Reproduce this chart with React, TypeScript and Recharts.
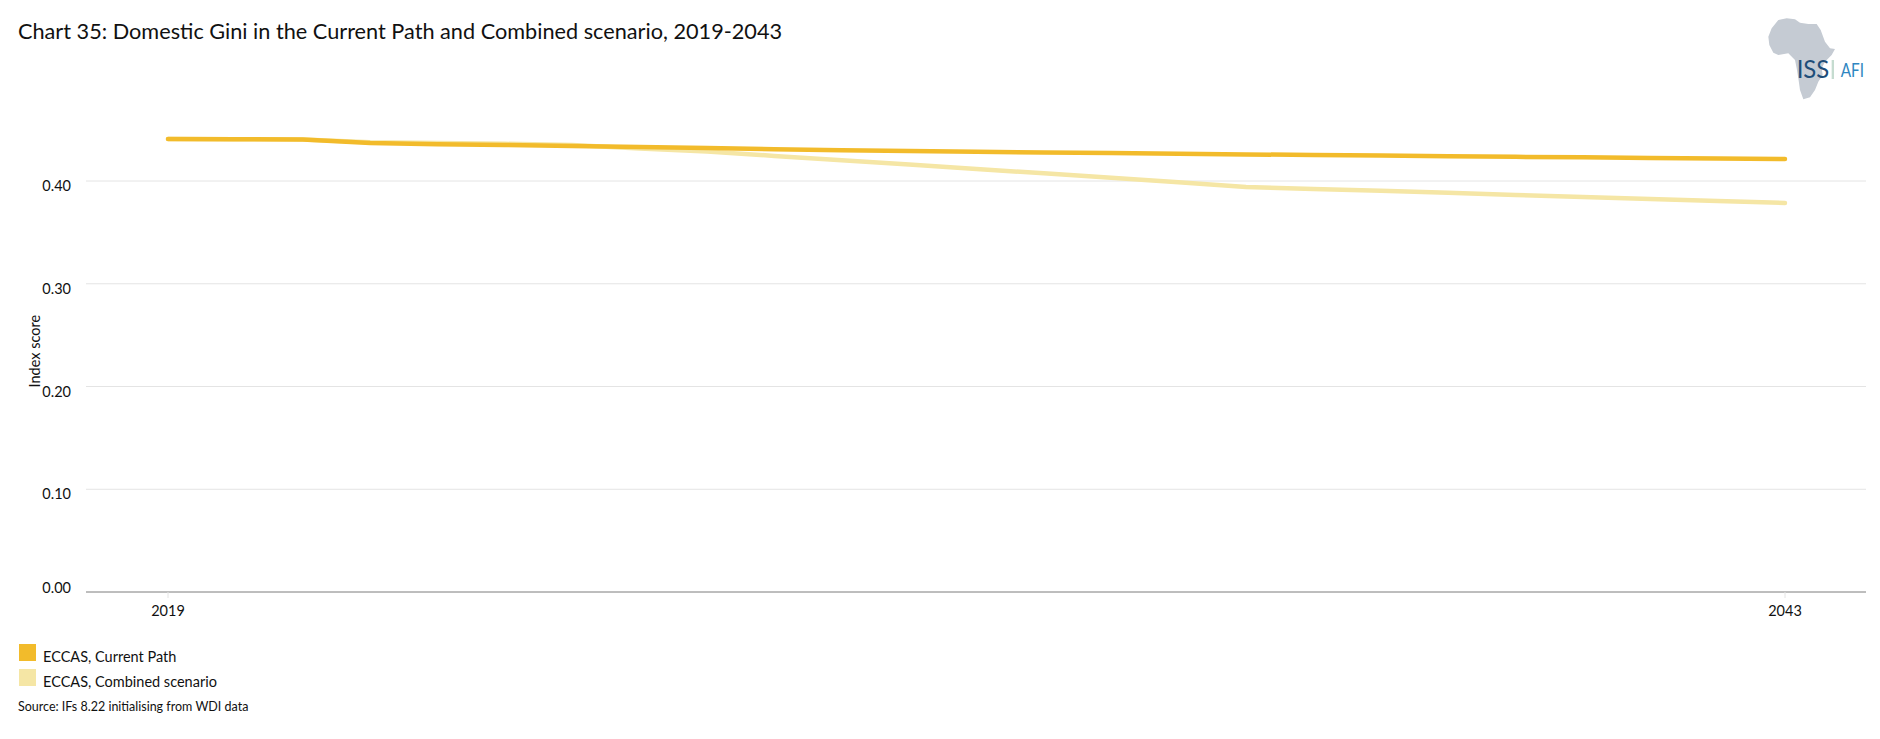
import { LineChart, Line, XAxis, YAxis, CartesianGrid } from 'recharts'

const years = [
  2019, 2020, 2021, 2022, 2023, 2024, 2025, 2026, 2027, 2028, 2029, 2030, 2031,
  2032, 2033, 2034, 2035, 2036, 2037, 2038, 2039, 2040, 2041, 2042, 2043,
]
const currentPath = [
  0.4409, 0.4407, 0.4404, 0.437, 0.4358, 0.435, 0.4341, 0.4332, 0.4321, 0.4309, 0.43, 0.4292, 0.4284,
  0.4277, 0.4272, 0.4266, 0.4259, 0.4253, 0.4247, 0.4241, 0.4235, 0.423, 0.4224, 0.4219, 0.4214,
]
const combined = [
  0.4409, 0.4407, 0.4403, 0.4378, 0.437, 0.4362, 0.435, 0.4316, 0.4287, 0.4244, 0.4201, 0.416, 0.4117,
  0.4075, 0.4032, 0.3987, 0.3942, 0.3922, 0.3906, 0.3886, 0.3864, 0.3844, 0.3825, 0.3805, 0.3786,
]
const yTicks = [0, 0.1, 0.2, 0.3, 0.4]
const xTicks = [2019, 2043]

const CURRENT_COLOR = '#F2BB2B'
const COMBINED_COLOR = '#F5E6A5'
const FONT = 'Lato, "Open Sans", sans-serif'

const legendItems = [
  { name: 'ECCAS, Current Path', color: CURRENT_COLOR },
  { name: 'ECCAS, Combined scenario', color: COMBINED_COLOR },
]

const chartData = years.map((year, i) => ({
  year,
  current: currentPath[i],
  combined: combined[i],
}))

// labels sit a little under their gridline, except the zero one
const YTick = ({ x, y, payload }: any) => (
  <text
    x={x}
    y={y}
    dy={payload.value === 0 ? 1 : 10}
    textAnchor="end"
    fontSize={14.5}
    fontFamily={FONT}
    fill="#111"
  >
    {payload.value.toFixed(2)}
  </text>
)

function Logo() {
  return (
    <svg
      width={130}
      height={100}
      viewBox="0 0 390 300"
      style={{ position: 'absolute', left: 1750, top: 10 }}
    >
      <path
        d="M85 30 L110 25 L135 28 L150 38 L175 42 L200 42 L212 60 L225 95 L240 115 L255 117 L245 135 L225 155 L215 175 L218 195 L205 215 L195 240 L180 262 L160 268 L150 240 L145 205 L140 175 L135 150 L115 130 L85 135 L70 128 L58 105 L55 80 L65 55 Z"
        fill="#C5CBD3"
      />
      <text x={140} y={205} fontSize={76} fontFamily={FONT} fill="#1F4E79" textLength={98} lengthAdjust="spacingAndGlyphs">
        ISS
      </text>
      <rect x={245} y={150} width={7} height={57} fill="#C5DCD0" />
      <text x={272} y={200} fontSize={56} fontFamily={FONT} fill="#2E86C1" textLength={70} lengthAdjust="spacingAndGlyphs">
        AFI
      </text>
    </svg>
  )
}

export default function App() {
  return (
    <div style={{ position: 'absolute', left: 0, top: 0, width: 1880, height: 739, background: '#fff', fontFamily: FONT, overflow: 'hidden' }}>
      <div style={{ position: 'absolute', left: 18, top: 17, fontSize: 21.7, lineHeight: '28px', color: '#111', whiteSpace: 'nowrap' }}>
        Chart 35: Domestic Gini in the Current Path and Combined scenario, 2019-2043
      </div>
      <Logo />
      <LineChart
        width={1880}
        height={739}
        data={chartData}
        margin={{ top: 78.25, right: 14, bottom: 117, left: 0 }}
      >
        <CartesianGrid vertical={false} horizontalValues={yTicks} stroke="#E4E4E4" strokeWidth={1} />
        <XAxis
          dataKey="year"
          ticks={xTicks}
          interval={0}
          padding={{ left: 82, right: 81 }}
          axisLine={{ stroke: '#8A8A8A', strokeWidth: 1 }}
          tickLine={{ stroke: '#E4E4E4' }}
          tickSize={6}
          tickMargin={8}
          tick={{ fontSize: 14.5, fill: '#111', fontFamily: FONT }}
        />
        <YAxis
          width={86}
          domain={[0, 0.5]}
          ticks={yTicks}
          axisLine={false}
          tickLine={false}
          tickMargin={9}
          tick={<YTick />}
          label={{
            value: 'Index score',
            angle: -90,
            position: 'insideLeft',
            offset: 0,
            dx: 35,
            dy: 16,
            style: { fontSize: 14.5, fill: '#111', fontFamily: FONT, textAnchor: 'middle' },
          }}
        />
        <Line type="linear" dataKey="combined" stroke={COMBINED_COLOR} strokeWidth={4.5} strokeLinecap="round" dot={false} isAnimationActive={false} />
        <Line type="linear" dataKey="current" stroke={CURRENT_COLOR} strokeWidth={4.5} strokeLinecap="round" dot={false} isAnimationActive={false} />
      </LineChart>
      {legendItems.map((item, i) => (
        <div key={item.name} style={{ position: 'absolute', left: 19, top: 644 + i * 25, height: 17, display: 'flex', alignItems: 'center' }}>
          <span style={{ width: 17, height: 17, background: item.color, display: 'inline-block' }} />
          <span style={{ marginLeft: 7, fontSize: 14.5, color: '#111', whiteSpace: 'nowrap', position: 'relative', top: 4 }}>{item.name}</span>
        </div>
      ))}
      <div style={{ position: 'absolute', left: 18, top: 699, fontSize: 12.5, lineHeight: '16px', color: '#111', whiteSpace: 'nowrap' }}>
        Source: IFs 8.22 initialising from WDI data
      </div>
    </div>
  )
}
